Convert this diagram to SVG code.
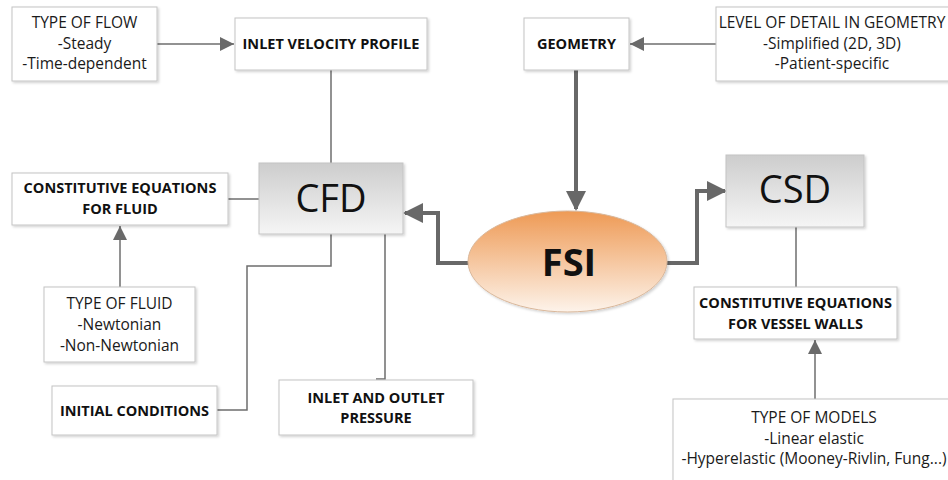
<svg xmlns="http://www.w3.org/2000/svg" width="948" height="480" viewBox="0 0 948 480">
<defs>
<style>
.box{fill:#fff;stroke:#c4c4c4;stroke-width:1;filter:url(#sh)}
.t{font-family:"Open Sans","Noto Sans","Liberation Sans",sans-serif;font-size:15.5px;fill:#1a1a1a;text-anchor:middle}
.b{font-family:"Open Sans","Noto Sans","Liberation Sans",sans-serif;font-size:14.5px;font-weight:bold;fill:#111;text-anchor:middle}
.big{font-family:"Open Sans","Noto Sans","Liberation Sans",sans-serif;font-size:38px;fill:#111;text-anchor:middle}
.thin{fill:none;stroke:#6e6e6e;stroke-width:1.5}
.thick{fill:none;stroke:#686868;stroke-width:4}
</style>
<filter id="sh" x="-10%" y="-10%" width="130%" height="130%">
<feDropShadow dx="1.5" dy="1.5" stdDeviation="1" flood-color="#000" flood-opacity="0.18"/>
</filter>
<linearGradient id="gray" x1="0" y1="0" x2="0" y2="1">
<stop offset="0" stop-color="#cdcdcd"/>
<stop offset="1" stop-color="#f5f5f5"/>
</linearGradient>
<linearGradient id="orange" x1="0" y1="0" x2="0" y2="1">
<stop offset="0" stop-color="#ee9a55"/>
<stop offset="1" stop-color="#fdf3ea"/>
</linearGradient>
<marker id="a" viewBox="0 0 10 10" refX="10" refY="5" markerWidth="14" markerHeight="14" markerUnits="userSpaceOnUse" orient="auto">
<path d="M0,0 L10,5 L0,10 z" fill="#6a6a6a"/>
</marker>
<marker id="A" viewBox="0 0 10 10" refX="9" refY="5" markerWidth="5" markerHeight="5" orient="auto">
<path d="M0,0 L10,5 L0,10 z" fill="#686868"/>
</marker>
</defs>
<rect width="948" height="480" fill="#fff"/>

<g id="connectors">
<path class="thin" d="M157,44 H234" marker-end="url(#a)"/>
<path class="thin" d="M716,44 H630" marker-end="url(#a)"/>
<path class="thin" d="M331,70 V163"/>
<path class="thin" d="M228,199 H259"/>
<path class="thin" d="M120,287 V226" marker-end="url(#a)"/>
<path class="thin" d="M217,410 H247 V266 H331 V234"/>
<path class="thin" d="M385,234 V379 H376"/>
<path class="thin" d="M796,227 V287"/>
<path class="thin" d="M815,399 V340" marker-end="url(#a)"/>
<path class="thick" d="M576,70 V209" marker-end="url(#A)"/>
<path class="thick" d="M469,263 H438 V213 H405" marker-end="url(#A)"/>
<path class="thick" d="M666,263 H697 V191 H725" marker-end="url(#A)"/>
</g>

<g id="type-of-flow">
<rect class="box" x="12" y="7" width="145" height="74"/>
<text class="t" x="84.5" y="28">TYPE OF FLOW</text>
<text class="t" x="84.5" y="48.5">-Steady</text>
<text class="t" x="84.5" y="69">-Time-dependent</text>
</g>

<g id="inlet-velocity">
<rect class="box" x="235" y="18" width="192" height="52"/>
<text class="b" x="331" y="49">INLET VELOCITY PROFILE</text>
</g>

<g id="geometry">
<rect class="box" x="524" y="18" width="105" height="52"/>
<text class="b" x="576.5" y="49">GEOMETRY</text>
</g>

<g id="level-of-detail">
<rect class="box" x="716" y="7" width="240" height="74"/>
<text class="t" x="832" y="28">LEVEL OF DETAIL IN GEOMETRY</text>
<text class="t" x="832" y="48.5">-Simplified (2D, 3D)</text>
<text class="t" x="832" y="69">-Patient-specific</text>
</g>

<g id="cfd">
<rect x="259" y="163" width="144" height="71" fill="url(#gray)" stroke="#c4c4c4" filter="url(#sh)"/>
<text class="big" x="331" y="212">CFD</text>
</g>

<g id="const-fluid">
<rect class="box" x="12" y="173" width="216" height="52"/>
<text class="b" x="120" y="193">CONSTITUTIVE EQUATIONS</text>
<text class="b" x="120" y="214">FOR FLUID</text>
</g>

<g id="type-of-fluid">
<rect class="box" x="44" y="287" width="151" height="75"/>
<text class="t" x="119.5" y="309">TYPE OF FLUID</text>
<text class="t" x="119.5" y="330">-Newtonian</text>
<text class="t" x="119.5" y="351">-Non-Newtonian</text>
</g>

<g id="initial-conditions">
<rect class="box" x="52" y="386" width="165" height="49"/>
<text class="b" x="134.5" y="416">INITIAL CONDITIONS</text>
</g>

<g id="inlet-outlet">
<rect class="box" x="279" y="380" width="194" height="55"/>
<text class="b" x="376" y="403">INLET AND OUTLET</text>
<text class="b" x="376" y="423">PRESSURE</text>
</g>

<g id="fsi">
<ellipse cx="567.5" cy="261.5" rx="99.5" ry="50.5" fill="url(#orange)" stroke="#d9b79a" stroke-width="1" filter="url(#sh)"/>
<text class="big" x="569" y="276" font-size="36" font-weight="bold">FSI</text>
</g>

<g id="csd">
<rect x="726" y="155" width="138" height="72" fill="url(#gray)" stroke="#c4c4c4" filter="url(#sh)"/>
<text class="big" x="795" y="203">CSD</text>
</g>

<g id="const-vessel">
<rect class="box" x="694" y="287" width="203" height="52"/>
<text class="b" x="795.5" y="308">CONSTITUTIVE EQUATIONS</text>
<text class="b" x="795.5" y="329">FOR VESSEL WALLS</text>
</g>

<g id="type-of-models">
<rect class="box" x="673" y="399" width="290" height="90"/>
<text class="t" x="814" y="423">TYPE OF MODELS</text>
<text class="t" x="814" y="444">-Linear elastic</text>
<text class="t" x="814" y="464">-Hyperelastic (Mooney-Rivlin, Fung...)</text>
</g>
</svg>
